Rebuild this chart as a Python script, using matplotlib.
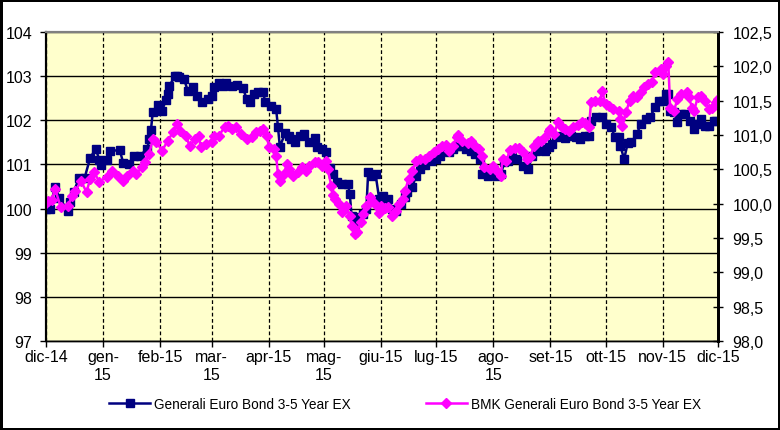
import matplotlib.pyplot as plt
from matplotlib.ticker import FuncFormatter
import numpy as np

plt.rcParams['font.family'] = ['Liberation Sans', 'DejaVu Sans']

start = np.datetime64('2014-12-01')

# fund (left axis), days since 1 dec 2014
fund_days = [0, 2, 5, 7, 12, 13, 15, 18, 21, 24,
             27, 29, 30, 33, 35, 40, 42, 45, 48, 51,
             55, 56, 57, 58, 61, 63, 65, 66, 67, 70,
             71, 72, 75, 77, 80, 82, 85, 88, 90, 91,
             94, 96, 98, 101, 104, 107, 109, 111, 113, 115,
             118, 119, 122, 125, 126, 127, 130, 132, 133, 135,
             138, 140, 143, 146, 147, 150, 152, 154, 156, 158,
             161, 164, 165, 166, 168, 169, 172, 174, 175, 177,
             179, 181, 183, 186, 188, 190, 193, 195, 196, 199,
             201, 203, 206, 209, 212, 214, 217, 219, 221, 223,
             225, 228, 231, 233, 236, 237, 240, 242, 245, 247,
             249, 251, 253, 256, 259, 262, 264, 266, 269, 271,
             273, 275, 277, 280, 282, 285, 288, 290, 293, 295,
             296, 299, 302, 304, 307, 309, 311, 312, 314, 316,
             318, 321, 323, 326, 328, 331, 333, 335, 337, 338,
             339, 341, 343, 345, 347, 350, 352, 354, 356, 358,
             360, 363, 364]
fund_vals = [100.0, 100.0, 100.5, 100.25, 99.95, 100.15, 100.37, 100.7, 100.7, 101.15,
             101.35, 101.1, 100.98, 101.1, 101.3, 101.33, 101.03, 101.0, 101.2, 101.2,
             101.35, 101.57, 101.78, 102.19, 102.35, 102.2, 102.46, 102.6, 102.78, 103.0,
             103.0, 102.98, 102.93, 102.67, 102.75, 102.55, 102.42, 102.48, 102.55, 102.75,
             102.85, 102.78, 102.85, 102.78, 102.8, 102.73, 102.48, 102.42, 102.6, 102.64,
             102.64, 102.42, 102.32, 102.25, 101.85, 101.4, 101.72, 101.65, 101.57, 101.5,
             101.65, 101.69, 101.5, 101.6, 101.4, 101.35, 101.28, 100.92, 100.78, 100.6,
             100.55, 100.55, 100.33, 99.83, 99.65, 99.8, 99.88, 99.99, 100.83, 100.74,
             100.78, 100.21, 100.28, 100.21, 99.99, 99.95, 100.1, 100.26, 100.38, 100.5,
             100.74, 100.9, 100.98, 101.08, 101.12, 101.19, 101.37, 101.28, 101.35, 101.42,
             101.42, 101.35, 101.3, 101.24, 101.12, 100.78, 100.74, 100.83, 100.74, 100.78,
             101.05, 101.08, 101.17, 101.12, 100.97, 100.9, 101.19, 101.3, 101.35, 101.3,
             101.4, 101.46, 101.62, 101.64, 101.6, 101.64, 101.62, 101.57, 101.64, 101.64,
             101.98, 102.07, 102.07, 101.92, 101.85, 101.62, 101.62, 101.42, 101.12, 101.49,
             101.5, 101.69, 101.92, 102.03, 102.07, 102.3, 102.44, 102.44, 102.6, 102.6,
             102.2, 102.19, 101.96, 102.14, 102.14, 101.98, 101.8, 101.92, 102.03, 101.87,
             101.87, 101.98, 101.98]

# benchmark (right axis)
bmk_days = [0, 1, 3, 5, 8, 12, 14, 16, 19, 22,
            24, 26, 29, 33, 36, 39, 42, 44, 47, 49,
            52, 54, 56, 58, 60, 63, 66, 69, 71, 73,
            76, 78, 81, 83, 84, 87, 90, 91, 94, 97,
            99, 101, 103, 106, 109, 112, 114, 116, 118, 120,
            121, 124, 125, 126, 127, 129, 131, 132, 134, 137,
            139, 141, 143, 146, 148, 150, 152, 153, 155, 156,
            157, 159, 161, 163, 165, 166, 168, 169, 171, 172,
            174, 176, 177, 180, 181, 182, 184, 186, 188, 190,
            192, 194, 195, 197, 199, 201, 203, 206, 208, 211,
            213, 215, 217, 219, 221, 223, 224, 226, 229, 231,
            233, 235, 237, 238, 241, 243, 245, 247, 248, 250,
            252, 255, 257, 259, 261, 263, 265, 267, 269, 271,
            273, 274, 276, 278, 280, 282, 284, 286, 289, 291,
            293, 295, 296, 298, 301, 302, 304, 306, 308, 311,
            312, 313, 315, 317, 319, 321, 323, 325, 327, 329,
            331, 334, 335, 337, 338, 339, 341, 343, 345, 348,
            349, 351, 352, 354, 356, 358, 360, 362, 364, 365]
bmk_vals = [100.01, 100.04, 100.05, 100.21, 99.95, 99.97, 100.11, 100.18, 100.33, 100.17,
            100.36, 100.46, 100.32, 100.39, 100.48, 100.40, 100.33, 100.40, 100.48, 100.43,
            100.53, 100.61, 100.72, 100.94, 100.90, 100.77, 100.91, 101.04, 101.16, 101.06,
            100.99, 100.84, 100.94, 100.99, 100.83, 100.87, 100.90, 100.99, 100.99, 101.12,
            101.13, 101.09, 101.12, 101.01, 100.94, 100.97, 101.04, 101.06, 101.09, 100.99,
            100.83, 100.80, 100.69, 100.43, 100.33, 100.43, 100.58, 100.50, 100.40, 100.46,
            100.53, 100.48, 100.55, 100.61, 100.61, 100.55, 100.62, 100.50, 100.26, 100.13,
            100.07, 100.0, 99.88, 99.97, 99.82, 99.67, 99.56, 99.59, 99.73, 99.85,
            99.97, 100.10, 100.04, 99.97, 99.86, 99.97, 99.94, 99.95, 99.82, 99.89,
            100.0, 100.07, 100.19, 100.36, 100.48, 100.62, 100.65, 100.65, 100.69, 100.75,
            100.80, 100.84, 100.86, 100.77, 100.84, 100.97, 101.0, 100.91, 100.88, 100.91,
            100.84, 100.80, 100.69, 100.53, 100.50, 100.55, 100.48, 100.40, 100.65, 100.62,
            100.78, 100.81, 100.81, 100.75, 100.65, 100.68, 100.84, 100.91, 100.91, 100.97,
            101.06, 101.09, 101.01, 101.19, 101.12, 101.09, 101.06, 101.12, 101.15, 101.19,
            101.18, 101.12, 101.48, 101.50, 101.50, 101.64, 101.45, 101.42, 101.38, 101.35,
            101.23, 101.13, 101.33, 101.50, 101.57, 101.55, 101.63, 101.70, 101.74, 101.77,
            101.92, 101.96, 101.89, 102.01, 102.06, 101.40, 101.35, 101.52, 101.60, 101.63,
            101.55, 101.40, 101.35, 101.55, 101.57, 101.50, 101.38, 101.39, 101.48, 101.52]

month_labels = ['dic-14', 'gen-\n15', 'feb-15', 'mar-\n15', 'apr-15', 'mag-\n15',
                'giu-15', 'lug-15', 'ago-\n15', 'set-15', 'ott-15', 'nov-15', 'dic-15']
left_ticks = [97, 98, 99, 100, 101, 102, 103, 104]
right_ticks = [98.0, 98.5, 99.0, 99.5, 100.0, 100.5, 101.0, 101.5, 102.0, 102.5]

fund_x = start + np.array(fund_days).astype('timedelta64[D]')
bmk_x = start + np.array(bmk_days).astype('timedelta64[D]')
months = np.arange('2014-12', '2016-01', dtype='datetime64[M]').astype('datetime64[D]')

fig = plt.figure(figsize=(7.8, 4.31), dpi=100)
fig.patch.set_edgecolor('black')
fig.patch.set_linewidth(2.5)
ax = fig.add_axes([46/780, 89/431, 672/780, 309/431])
ax.set_facecolor('#FFFFCC')
ax2 = ax.twinx()

l1, = ax.plot(fund_x, fund_vals, color='#000080', lw=1.8, marker='s', ms=5.8,
              label='Generali Euro Bond 3-5 Year EX')
l2, = ax2.plot(bmk_x, bmk_vals, color='#FF00FF', lw=1.8, marker='D', ms=4.6,
               label='BMK Generali Euro Bond 3-5 Year EX')

ax.set_xlim(months[0], months[-1])
ax.set_ylim(97, 104)
ax2.set_ylim(98, 102.5)
ax.set_xticks(months)
ax.set_xticklabels(month_labels)
ax.set_yticks(left_ticks)
ax2.set_yticks(right_ticks)
ax2.yaxis.set_major_formatter(FuncFormatter(lambda v, p: f'{v:.1f}'.replace('.', ',')))

ax.grid(axis='y', color='black', lw=1, ls='-')
ax.grid(axis='x', color='black', lw=0.9, ls=(0, (3, 2)))
ax.set_axisbelow(True)

ax.tick_params(axis='y', direction='out', length=4, labelsize=11.5, pad=6, width=1)
ax.tick_params(axis='x', direction='out', length=4, labelsize=11.5, pad=2, width=1)
ax2.tick_params(axis='y', direction='inout', length=7, labelsize=11.5, pad=7, width=1)

for a in (ax, ax2):
    a.spines['top'].set_color('#808080')
    a.spines['top'].set_linewidth(1.5)
    a.spines['left'].set_linewidth(1.5)
    a.spines['right'].set_linewidth(2)
    a.spines['bottom'].set_linewidth(1)

fig.legend(handles=[l1, l2], loc='center', bbox_to_anchor=(405/780, 1 - 405/431),
           ncol=2, frameon=False, fontsize=9.8, handlelength=3, columnspacing=5.5,
           handletextpad=0.3)

fig.savefig('out.png', dpi=100)
